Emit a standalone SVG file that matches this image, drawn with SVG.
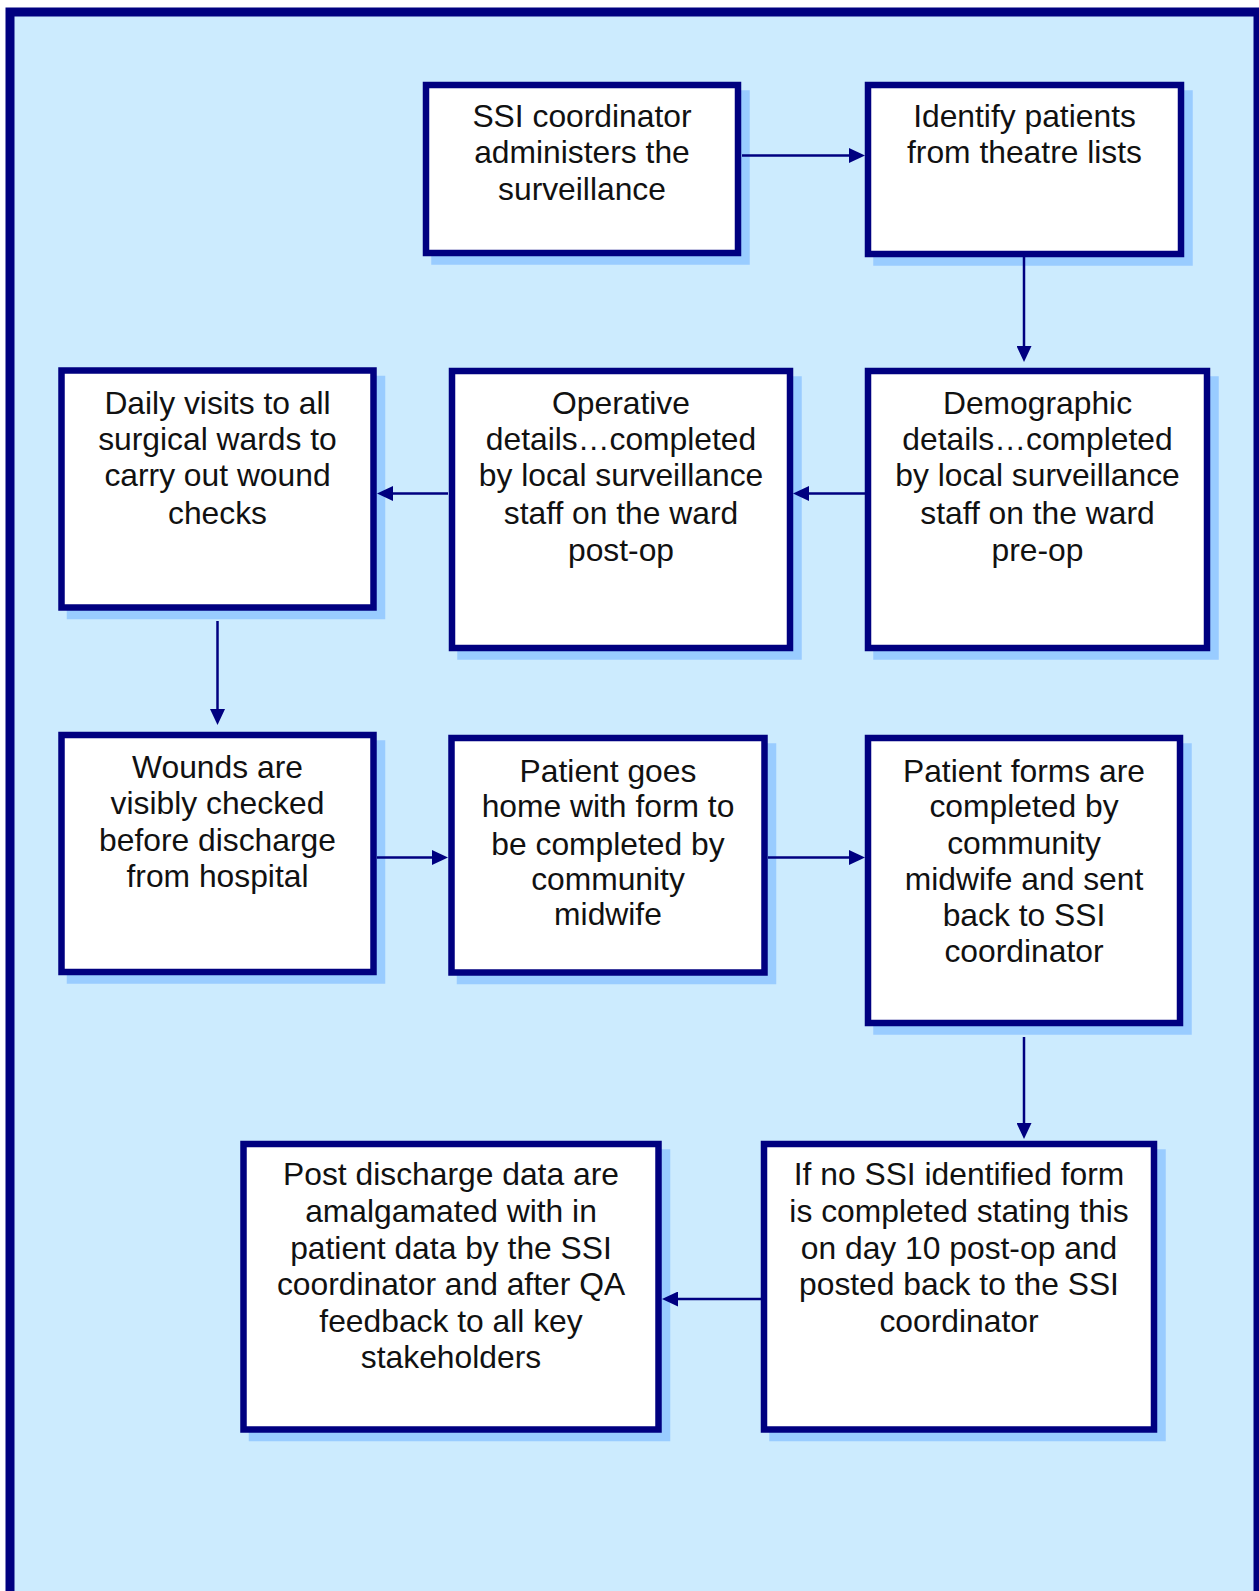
<svg xmlns="http://www.w3.org/2000/svg" width="1259" height="1591" viewBox="0 0 1259 1591">
<style>
.bg{fill:#CCEBFE;stroke:#000080;stroke-width:9}
.sh{fill:#99CCFF;stroke:#99CCFF;stroke-width:6.5}
.box{fill:#FFFFFF;stroke:#000080;stroke-width:6.5}
.t{font-family:"Liberation Sans",Arial,sans-serif;font-size:31.8px;fill:#111111;text-anchor:middle}
.c{stroke:#000080;stroke-width:2.5;fill:none;marker-end:url(#ah)}
</style>
<defs>
<marker id="ah" markerWidth="16" markerHeight="15" refX="11" refY="7.5" orient="auto" markerUnits="userSpaceOnUse">
<path d="M0,0 L16,7.5 L0,15 z" fill="#000080"/>
</marker>
</defs>
<rect class="bg" x="10" y="12" width="1248" height="1600"/>

<g id="n1">
<rect class="sh" x="434.5" y="93.5" width="312" height="168"/>
<rect class="box" x="426" y="85" width="312" height="168"/>
<text class="t"><tspan x="582" y="127">SSI coordinator</tspan><tspan x="582" y="163">administers the</tspan><tspan x="582" y="199.5">surveillance</tspan></text>
</g>
<g id="n2">
<rect class="sh" x="876.5" y="93.5" width="313" height="169"/>
<rect class="box" x="868" y="85" width="313" height="169"/>
<text class="t"><tspan x="1024.5" y="127">Identify patients</tspan><tspan x="1024.5" y="163">from theatre lists</tspan></text>
</g>
<g id="n3">
<rect class="sh" x="460.5" y="379.5" width="338" height="277"/>
<rect class="box" x="452" y="371" width="338" height="277"/>
<text class="t"><tspan x="621" y="413.5">Operative</tspan><tspan x="621" y="450">details…completed</tspan><tspan x="621" y="485.5">by local surveillance</tspan><tspan x="621" y="524">staff on the ward</tspan><tspan x="621" y="561">post-op</tspan></text>
</g>
<g id="n4">
<rect class="sh" x="70" y="379" width="312" height="237"/>
<rect class="box" x="61.5" y="370.5" width="312" height="237"/>
<text class="t"><tspan x="217.5" y="413.5">Daily visits to all</tspan><tspan x="217.5" y="450">surgical wards to</tspan><tspan x="217.5" y="485.5">carry out wound</tspan><tspan x="217.5" y="524">checks</tspan></text>
</g>
<g id="n5">
<rect class="sh" x="876.5" y="379.5" width="339" height="277"/>
<rect class="box" x="868" y="371" width="339" height="277"/>
<text class="t"><tspan x="1037.5" y="413.5">Demographic</tspan><tspan x="1037.5" y="450">details…completed</tspan><tspan x="1037.5" y="485.5">by local surveillance</tspan><tspan x="1037.5" y="524">staff on the ward</tspan><tspan x="1037.5" y="561">pre-op</tspan></text>
</g>
<g id="n6">
<rect class="sh" x="70" y="743.5" width="312" height="237"/>
<rect class="box" x="61.5" y="735" width="312" height="237"/>
<text class="t"><tspan x="217.5" y="777.5">Wounds are</tspan><tspan x="217.5" y="814">visibly checked</tspan><tspan x="217.5" y="850.5">before discharge</tspan><tspan x="217.5" y="887">from hospital</tspan></text>
</g>
<g id="n7">
<rect class="sh" x="460" y="746.5" width="313" height="234.5"/>
<rect class="box" x="451.5" y="738" width="313" height="234.5"/>
<text class="t"><tspan x="608" y="782">Patient goes</tspan><tspan x="608" y="817">home with form to</tspan><tspan x="608" y="855">be completed by</tspan><tspan x="608" y="890">community</tspan><tspan x="608" y="925">midwife</tspan></text>
</g>
<g id="n8">
<rect class="sh" x="876.5" y="746.5" width="312" height="285"/>
<rect class="box" x="868" y="738" width="312" height="285"/>
<text class="t"><tspan x="1024" y="782">Patient forms are</tspan><tspan x="1024" y="817">completed by</tspan><tspan x="1024" y="854">community</tspan><tspan x="1024" y="890">midwife and sent</tspan><tspan x="1024" y="925.5">back to SSI</tspan><tspan x="1024" y="962">coordinator</tspan></text>
</g>
<g id="n9">
<rect class="sh" x="252" y="1152.5" width="415" height="285.5"/>
<rect class="box" x="243.5" y="1144" width="415" height="285.5"/>
<text class="t"><tspan x="451" y="1185">Post discharge data are</tspan><tspan x="451" y="1222">amalgamated with in</tspan><tspan x="451" y="1258.5">patient data by the SSI</tspan><tspan x="451" y="1295">coordinator and after QA</tspan><tspan x="451" y="1331.5">feedback to all key</tspan><tspan x="451" y="1368">stakeholders</tspan></text>
</g>
<g id="n10">
<rect class="sh" x="772.5" y="1152.5" width="390" height="285.5"/>
<rect class="box" x="764" y="1144" width="390" height="285.5"/>
<text class="t"><tspan x="959" y="1185">If no SSI identified form</tspan><tspan x="959" y="1222">is completed stating this</tspan><tspan x="959" y="1258.5">on day 10 post-op and</tspan><tspan x="959" y="1295">posted back to the SSI</tspan><tspan x="959" y="1331.5">coordinator</tspan></text>
</g>

<g id="connectors">
<line class="c" x1="742" y1="155.5" x2="860" y2="155.5"/>
<line class="c" x1="1024" y1="257" x2="1024" y2="357"/>
<line class="c" x1="865" y1="493.5" x2="798" y2="493.5"/>
<line class="c" x1="448" y1="493.5" x2="382" y2="493.5"/>
<line class="c" x1="217.5" y1="621" x2="217.5" y2="720"/>
<line class="c" x1="377" y1="857.5" x2="443" y2="857.5"/>
<line class="c" x1="768" y1="857.5" x2="860" y2="857.5"/>
<line class="c" x1="1024" y1="1037" x2="1024" y2="1134"/>
<line class="c" x1="761" y1="1299" x2="667" y2="1299"/>
</g>
</svg>
